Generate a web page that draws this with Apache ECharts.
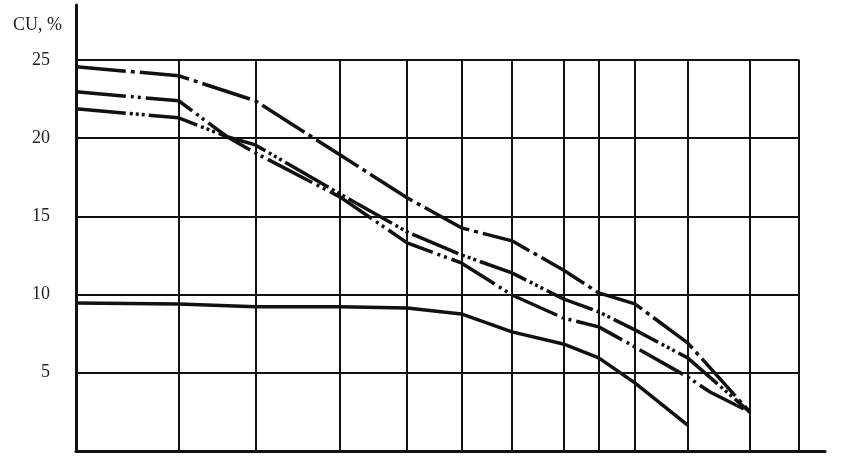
<!DOCTYPE html>
<html>
<head>
<meta charset="utf-8">
<script src="https://cdn.jsdelivr.net/npm/echarts@6/dist/echarts.min.js"></script>
<style>
  html, body { margin: 0; padding: 0; background: #fff; }
  #chart { width: 858px; height: 460px; }
</style>
</head>
<body>
<div id="chart"></div>
<script>
  // grid positions (x has no labels in the original, relative units: box = 0..100)
  const gridX = [14.2, 24.8, 36.5, 45.8, 53.3, 60.3, 67.4, 72.3, 77.3, 84.6, 93.2, 100]
  const gridY = [5, 10, 15, 20, 25]
  const yTicks = [5, 10, 15, 20, 25]

  // dash-dot curve
  const aX = [0, 14.2, 24.8, 36.5, 45.8, 53.3, 60.3, 67.4, 72.3, 77.3, 84.6, 93.2]
  const aY = [24.55, 23.98, 22.38, 18.93, 16.18, 14.26, 13.43, 11.57, 10.10, 9.40, 6.91, 2.49]
  // dash-dot-dot curve
  const bX = [0, 14.2, 20.9, 24.8, 36.5, 45.8, 53.3, 60.3, 67.4, 72.3, 77.3, 84.6, 87.7, 93.2]
  const bY = [22.95, 22.38, 20.08, 19.05, 16.24, 13.30, 12.02, 9.97, 8.50, 7.93, 6.65, 4.73, 3.77, 2.49]
  // dash-dot-dot-dot curve
  const cX = [0, 14.2, 20.9, 24.8, 36.5, 45.8, 53.3, 60.3, 67.4, 72.3, 77.3, 84.6, 93.2]
  const cY = [21.87, 21.29, 20.08, 19.56, 16.43, 14.00, 12.53, 11.38, 9.72, 8.89, 7.74, 5.95, 2.49]
  // solid curve
  const dX = [0, 14.2, 24.8, 36.5, 45.8, 53.3, 60.3, 67.4, 72.3, 77.3, 84.6]
  const dY = [9.46, 9.40, 9.21, 9.21, 9.14, 8.76, 7.61, 6.84, 5.95, 4.35, 1.66]

  const zip = (xs, ys) => xs.map((x, i) => [x, ys[i]])
  const ink = '#111'
  const serif = '"Liberation Serif", "DejaVu Serif", serif'

  let chart = echarts.init(document.getElementById('chart'))

  // grid lines drawn as markLines so they stop at the box edge
  let gridLines = []
  gridY.forEach((y) => gridLines.push([{ coord: [0, y] }, { coord: [100, y] }]))
  gridX.forEach((x) => gridLines.push([{ coord: [x, 0] }, { coord: [x, 25] }]))

  const curve = (data, dash, width) => ({
    type: 'line',
    data: data,
    symbol: 'none',
    z: 3,
    lineStyle: { color: ink, width: width || 3.5, type: dash, cap: 'butt' }
  })

  chart.setOption({
    animation: false,
    title: {
      text: 'CU, %',
      left: 8,
      top: 11,
      textStyle: { fontFamily: serif, fontSize: 18, fontWeight: 'normal', color: '#222' }
    },
    grid: { left: 76, right: 33, top: 5, bottom: 9 },
    xAxis: {
      type: 'value',
      min: 0,
      max: 103.6,
      axisLine: { lineStyle: { color: ink, width: 3 } },
      axisTick: { show: false },
      axisLabel: { show: false },
      splitLine: { show: false }
    },
    yAxis: {
      type: 'value',
      min: 0,
      max: 28.5,
      axisLine: { show: true, lineStyle: { color: ink, width: 3 } },
      axisTick: { show: false },
      splitLine: { show: false },
      axisLabel: {
        customValues: yTicks,
        margin: 26,
        color: '#222',
        fontFamily: serif,
        fontSize: 18,
        padding: [0, 0, 6, 0]
      }
    },
    series: [
      {
        type: 'line',
        data: [],
        z: 1,
        markLine: {
          silent: true,
          symbol: ['none', 'none'],
          label: { show: false },
          lineStyle: { color: ink, width: 2, type: 'solid' },
          data: gridLines
        }
      },
      curve(zip(aX, aY), [50, 5, 4, 5]),
      curve(zip(bX, bY), [50, 5, 3, 4, 3, 5]),
      curve(zip(cX, cY), [50, 4, 3, 3, 3, 3, 3, 4]),
      curve(zip(dX, dY), 'solid')
    ]
  })
</script>
</body>
</html>
